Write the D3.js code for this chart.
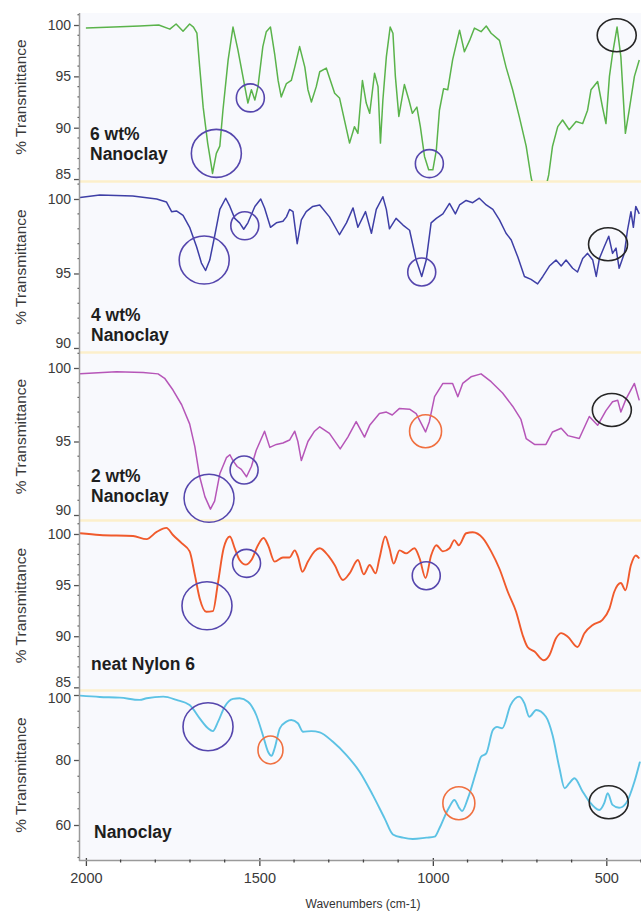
<!DOCTYPE html>
<html>
<head>
<meta charset="utf-8">
<script src="https://cdn.jsdelivr.net/npm/d3@7/dist/d3.min.js"></script>
<style>
  html, body { margin: 0; padding: 0; background: #ffffff; }
  svg { display: block; font-family: "Liberation Sans", Arial, sans-serif; }
</style>
</head>
<body>
<svg id="chart" width="641" height="912"></svg>
<script>
// FTIR spectra: wavenumber (cm-1) and % transmittance for each sample
const clay6Wave = [2000,1920,1845,1790,1758,1740,1720,1701,1690,1680,1672,1662,1649,1638,1635,1624,1614,1605,1590,1576,1562,1542,1533,1523,1513,1504,1490,1480,1468,1456,1446,1437,1422,1408,1398,1384,1369,1360,1350,1336,1326,1307,1283,1269,1240,1226,1216,1203,1192,1182,1168,1158,1151,1144,1134,1123,1115,1108,1098,1082,1069,1059,1046,1036,1024,1012,1000,990,981,969,957,943,923,909,894,880,861,846,832,808,789,770,751,731,717,693,666,655,640,626,607,587,568,554,544,525,511,501,491,482,469,458,445,434,419,405];
const clay6T = [99.7,99.8,99.9,100.0,99.6,100.1,99.4,100.1,99.8,99.2,95.9,92.0,88.5,86.2,85.55,87.5,88.2,91.7,96.6,99.8,97.6,94.0,92.4,93.7,92.7,94.0,97.9,99.35,99.8,97.2,94.6,93.0,94.3,94.6,95.9,97.9,95.9,93.7,92.5,94.0,95.45,95.8,93.35,92.9,88.5,90.1,89.45,94.6,92.4,91.4,95.3,94.0,88.5,92.7,96.9,99.8,99.2,95.0,91.1,94.2,92.7,91.4,92.0,90.1,87.2,85.9,85.9,87.8,91.7,93.8,93.7,96.6,99.5,97.4,98.5,99.7,99.35,99.9,99.2,98.5,95.9,93.7,91.1,88.2,85.2,81.5,85.4,88.2,90.1,90.75,89.8,90.6,90.4,91.7,93.7,94.5,92.0,90.4,95.0,97.2,99.8,96.9,89.45,91.7,95.0,96.6];

const clay4Wave = [2017,1960,1865,1796,1768,1753,1739,1720,1701,1681,1667,1655,1643,1629,1614,1597,1585,1571,1557,1545,1533,1513,1496,1485,1468,1451,1432,1422,1413,1403,1391,1379,1365,1346,1326,1298,1269,1249,1230,1216,1194,1177,1163,1144,1134,1125,1106,1086,1067,1048,1032,1019,1005,990,971,952,935,923,904,885,866,846,827,808,789,774,755,736,717,698,683,664,645,630,616,597,583,568,554,539,529,520,506,493,482,472,463,448,439,429,422,415,405];
const clay4T = [100.1,100.27,100.2,100.0,99.8,99.15,99.2,98.9,98.1,96.8,95.7,95.2,95.9,97.5,99.3,100.05,99.5,98.7,98.4,97.97,98.4,99.5,100.0,99.4,98.1,98.4,98.5,98.8,99.3,99.15,97.0,98.6,99.15,99.5,99.6,98.8,97.6,98.4,99.4,98.1,99.15,97.7,99.3,100.15,99.3,98.0,98.7,98.25,97.9,95.9,94.8,95.9,98.4,98.7,99.0,99.7,99.0,99.6,99.9,99.75,100.05,99.6,99.3,98.6,97.7,97.25,96.1,94.8,94.6,94.3,94.8,95.5,95.9,95.5,95.9,95.35,95.1,96.0,96.35,95.9,94.8,96.0,96.8,97.5,96.35,96.7,95.35,96.35,97.9,99.15,98.1,99.5,99.0];

const clay2Wave = [2017,1912,1835,1792,1773,1749,1724,1701,1686,1672,1657,1641,1629,1614,1595,1585,1576,1564,1552,1537,1523,1509,1485,1470,1451,1432,1413,1398,1389,1379,1360,1341,1326,1298,1267,1245,1221,1197,1182,1154,1134,1117,1096,1067,1048,1021,1010,995,971,943,928,914,890,861,832,799,770,746,731,707,674,655,630,611,578,549,525,501,482,467,458,443,419,405];
const clay2T = [99.6,99.75,99.7,99.6,99.3,98.5,97.5,96.2,94.65,92.6,91.25,90.4,90.95,92.8,93.9,94.1,93.7,93.3,93.1,92.6,93.3,94.4,95.7,94.6,94.8,94.9,95.1,95.7,95.0,93.7,95.0,95.7,96.0,95.55,94.5,95.3,96.35,95.3,96.1,96.9,97.0,96.8,97.25,97.2,96.9,95.65,96.35,98.05,98.95,98.95,98.05,98.95,99.4,99.6,99.07,98.3,97.4,96.5,95.2,94.8,94.8,95.65,95.9,95.4,95.2,96.7,96.1,97.1,97.7,97.8,97.0,97.9,98.95,97.8];

const nylonWave = [2017,1960,1864,1825,1796,1768,1749,1724,1701,1686,1672,1653,1634,1619,1603,1585,1571,1557,1539,1523,1504,1488,1475,1456,1432,1413,1398,1389,1376,1360,1341,1326,1302,1283,1259,1240,1216,1199,1182,1165,1154,1137,1125,1113,1096,1077,1053,1038,1021,1005,990,971,952,938,925,904,885,856,832,808,784,760,741,727,707,681,664,645,630,611,583,563,539,511,491,477,458,445,429,415,405];
const nylonT = [100.07,99.9,99.8,99.5,100.2,100.6,99.9,99.1,98.3,96.0,93.7,92.4,92.45,95.3,98.6,99.75,98.6,97.45,97.0,97.45,98.9,99.6,98.9,97.3,97.7,97.7,98.4,97.8,96.3,97.3,98.3,98.6,97.9,96.96,95.5,96.15,97.45,96.05,96.96,96.15,97.6,99.75,98.6,97.1,98.4,98.1,98.6,97.6,95.7,97.9,98.9,98.3,98.6,99.4,98.9,100.07,100.17,99.6,98.3,96.6,94.35,92.4,90.1,88.95,88.5,87.65,88.15,89.8,90.3,89.95,88.95,90.3,91.1,91.6,92.7,94.35,95.2,94.5,96.96,97.9,97.6];

const clayWave = [2017,1960,1902,1845,1825,1777,1739,1701,1672,1648,1634,1619,1600,1576,1557,1533,1509,1490,1475,1465,1456,1441,1422,1408,1389,1374,1350,1326,1288,1249,1211,1173,1139,1115,1086,1058,1019,995,981,966,952,938,923,916,899,875,861,846,827,815,800,776,751,736,722,702,674,655,635,620,607,592,568,549,520,506,496,482,463,443,419,403];
const clayT = [99.8,99.4,99.2,98.5,99.0,99.5,98.5,96.9,92.8,89.75,88.9,91.8,96.4,98.8,99.0,97.95,93.85,87.7,82.55,81.3,83.6,89.75,91.8,92.3,91.3,88.7,88.9,88.5,85.6,81.5,76.4,69.2,62.05,57.1,56.1,55.7,56.1,56.4,59.0,62.6,65.6,67.7,65.1,64.3,68.2,76.4,81.0,82.05,89.2,90.2,89.75,96.9,99.5,97.45,93.3,95.4,93.3,87.7,77.45,71.3,72.8,74.4,70.25,67.2,64.6,66.7,69.75,66.2,65.3,66.7,73.3,79.5];

// Band annotations: sample index, band position (cm-1), transmittance, marker kind
const bandPanel = [0,0,0,0, 1,1,1,1, 2,2,2,2, 3,3,3, 4,4,4,4];
const bandWave  = [1624,1526,1010,470, 1659,1542,1032,495, 1645,1544,1021,484, 1651,1537,1019, 1648,1468,925,493];
const bandT     = [87.5,92.9,86.5,99.0, 95.9,98.2,95.1,96.96, 91.14,93.06,95.7,97.14, 92.98,97.13,95.92, 90.25,83.1,66.7,67.0];
const bandKind  = ["amideI","amideII","amideII","clay", "amideI","amideII","amideII","clay", "amideI","amideII","orange","clay", "amideI","amideII","amideII", "amideI","orangeS","orange","clay"];

const xTickValues = [2000, 1500, 1000, 500];
const xTitle = "Wavenumbers (cm-1)";
const yTitle = "% Transmittance";

// ---------- drawing ----------
const svg = d3.select("#chart");
const W = 641;
const axisX = 80;

const x = d3.scaleLinear().domain([2017, 400]).range([axisX, 641]);

const markStyle = {
  amideI:  { rx: 25,   ry: 24,   color: "#5546ad" },
  amideII: { rx: 14,   ry: 14,   color: "#5546ad" },
  clay:    { rx: 19.5, ry: 16.5, color: "#262626" },
  orange:  { rx: 16,   ry: 16.5, color: "#f07040" },
  orangeS: { rx: 12.5, ry: 14,   color: "#f07040" }
};

const panels = [
  { wave: clay6Wave, t: clay6T, color: "#5ab34b", top: 13,  bottom: 181, domain: [84.81, 101.17], ticks: [85, 90, 95, 100], minor: 1, label: ["6 wt%", "Nanoclay"], lx: 90, ly: 140, curve: d3.curveLinear, width: 1.5 },
  { wave: clay4Wave, t: clay4T, color: "#3e3fa6", top: 182, bottom: 352, domain: [89.73, 101.14], ticks: [90, 95, 100], minor: 1, label: ["4 wt%", "Nanoclay"], lx: 91, ly: 321, curve: d3.curveLinear, width: 1.5 },
  { wave: clay2Wave, t: clay2T, color: "#b656b8", top: 353, bottom: 520, domain: [89.66, 101.02], ticks: [90, 95, 100], minor: 1, label: ["2 wt%", "Nanoclay"], lx: 91, ly: 482, curve: d3.curveLinear, width: 1.5 },
  { wave: nylonWave, t: nylonT, color: "#f05a2c", top: 521, bottom: 690, domain: [84.74, 101.27], ticks: [85, 90, 95, 100], minor: 1, label: ["neat Nylon 6"], lx: 91, ly: 670, curve: d3.curveMonotoneX, width: 1.9 },
  { wave: clayWave,  t: clayT,  color: "#5cc2e4", top: 690, bottom: 860, domain: [49.23, 101.54], ticks: [60, 80, 100], minor: 5, label: ["Nanoclay"], lx: 94, ly: 838, curve: d3.curveMonotoneX, width: 1.9 }
];

const defs = svg.append("defs");

// plot background
svg.append("rect").attr("x", axisX).attr("y", 13).attr("width", W - axisX).attr("height", 860 - 13)
  .attr("fill", "#f8f9fd");

panels.forEach((p, i) => {
  const y = d3.scaleLinear().domain(p.domain).range([p.bottom, p.top]);
  p.y = y;

  defs.append("clipPath").attr("id", "clip" + i)
    .append("rect").attr("x", axisX).attr("y", p.top).attr("width", W - axisX).attr("height", p.bottom - p.top);

  const g = svg.append("g");

  // separator band at panel bottom
  if (i < panels.length - 1) {
    g.append("line").attr("x1", axisX).attr("x2", W).attr("y1", p.bottom + 0.5).attr("y2", p.bottom + 0.5)
      .attr("stroke", "#fcefcb").attr("stroke-width", 2.5);
  }

  // spectrum
  const line = d3.line().x((d, k) => x(p.wave[k])).y(d => y(d)).curve(p.curve);
  g.append("path").datum(p.t)
    .attr("clip-path", "url(#clip" + i + ")")
    .attr("d", line)
    .attr("fill", "none").attr("stroke", p.color).attr("stroke-width", p.width)
    .attr("stroke-linejoin", "round");

  // y axis: minor ticks
  const [lo, hi] = p.domain;
  const minorVals = d3.range(Math.ceil(lo / p.minor) * p.minor, hi, p.minor).filter(v => !p.ticks.includes(v));
  g.selectAll(".minor").data(minorVals).join("line")
    .attr("x1", axisX - 2.5).attr("x2", axisX).attr("y1", v => y(v)).attr("y2", v => y(v))
    .attr("stroke", "#555").attr("stroke-width", 1.2);

  // y axis: major ticks and labels (labels kept inside their own panel band)
  const yAxis = d3.axisLeft(y).tickValues(p.ticks).tickSize(6).tickPadding(3).tickFormat(d3.format("d"));
  const ag = g.append("g").attr("transform", `translate(${axisX},0)`).call(yAxis);
  ag.select(".domain").remove();
  ag.selectAll(".tick line").attr("stroke", "#555").attr("stroke-width", 1.3);
  ag.selectAll(".tick text").attr("fill", "#3a3a3a").attr("font-size", 14)
    .attr("font-family", "'Liberation Sans', Arial, sans-serif")
    .attr("y", v => {
      const py = y(v);
      if (p.bottom - py < 8) return -5;
      if (py - p.top < 8) return 3;
      return 0;
    });

  // y title
  g.append("text")
    .attr("transform", `translate(26,${(p.top + p.bottom) / 2}) rotate(-90)`)
    .attr("text-anchor", "middle")
    .attr("font-size", 15.5).attr("fill", "#3a3a3a")
    .text(yTitle);

  // sample label
  const lt = g.append("text").attr("x", p.lx).attr("y", p.ly)
    .attr("font-size", 17.5).attr("font-weight", "bold").attr("fill", "#1e1e1e");
  p.label.forEach((s, k) => {
    lt.append("tspan").attr("x", p.lx).attr("dy", k === 0 ? 0 : 20).text(s);
  });
});

// band annotation ellipses
const bands = bandWave.map((w, k) => ({ w, t: bandT[k], p: panels[bandPanel[k]], s: markStyle[bandKind[k]] }));
svg.append("g").selectAll("ellipse").data(bands).join("ellipse")
  .attr("cx", d => x(d.w)).attr("cy", d => d.p.y(d.t))
  .attr("rx", d => d.s.rx).attr("ry", d => d.s.ry)
  .attr("fill", "none").attr("stroke", d => d.s.color).attr("stroke-width", 1.6);

// left axis line
svg.append("line").attr("x1", axisX - 0.5).attr("x2", axisX - 0.5).attr("y1", 13).attr("y2", 861)
  .attr("stroke", "#9a9a9a").attr("stroke-width", 1.5);

// bottom axis
const xAxis = d3.axisBottom(x).tickValues(xTickValues).tickSize(6).tickPadding(7).tickFormat(d3.format("d"));
const xg = svg.append("g").attr("transform", "translate(0,860)").call(xAxis);
xg.select(".domain").remove();
xg.selectAll(".tick line").attr("stroke", "#444").attr("stroke-width", 1.3).attr("y1", -2);
xg.selectAll(".tick text").attr("fill", "#3a3a3a").attr("font-size", 14.5)
  .attr("font-family", "'Liberation Sans', Arial, sans-serif");
svg.append("line").attr("x1", axisX - 1).attr("x2", W).attr("y1", 860.5).attr("y2", 860.5)
  .attr("stroke", "#9a9a9a").attr("stroke-width", 1.5);
const xMinor = d3.range(400, 2001, 100).filter(v => !xTickValues.includes(v));
svg.append("g").selectAll("line").data(xMinor).join("line")
  .attr("x1", v => x(v)).attr("x2", v => x(v)).attr("y1", 859.5).attr("y2", 862.5)
  .attr("stroke", "#444").attr("stroke-width", 1.3);

svg.append("text").attr("x", 363).attr("y", 908).attr("text-anchor", "middle")
  .attr("font-size", 12).attr("fill", "#333").text(xTitle);
</script>
</body>
</html>
